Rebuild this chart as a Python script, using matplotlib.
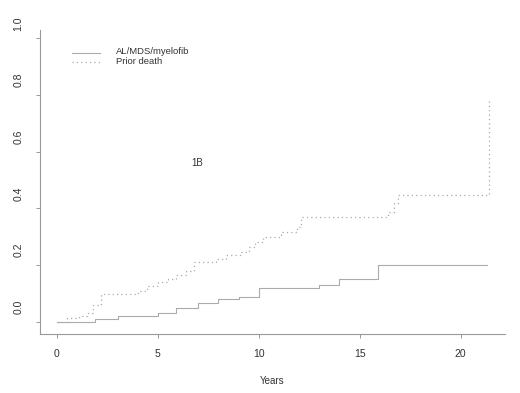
import matplotlib
matplotlib.use("Agg")
import matplotlib.pyplot as plt
import matplotlib.transforms as mtransforms

plt.rcParams['font.family'] = ['Liberation Sans', 'DejaVu Sans']

# cumulative incidence, AL/MDS/myelofib (step curve)
t_alm = [0, 1.9, 3.0, 5.0, 5.9, 7.0, 8.0, 9.0, 10.0, 13.0, 14.0, 15.9, 21.3]
v_alm = [0, 0.01, 0.02, 0.03, 0.05, 0.067, 0.08, 0.088, 0.12, 0.13, 0.15, 0.20, 0.20]

# cumulative incidence, prior death
t_death = [0, 0.5, 1.1, 1.5, 1.8, 2.2, 4.0, 4.45, 5.0, 5.5, 5.9, 6.4, 6.8, 7.9, 8.4,
           9.1, 9.5, 9.8, 10.2, 11.1, 11.9, 12.1, 16.4, 16.7, 16.9, 21.4, 21.4]
v_death = [0, 0.015, 0.022, 0.03, 0.06, 0.10, 0.11, 0.125, 0.14, 0.15, 0.165, 0.18, 0.21,
           0.22, 0.235, 0.245, 0.265, 0.28, 0.30, 0.317, 0.335, 0.37, 0.387, 0.42, 0.447,
           0.447, 0.79]

xticks = [0, 5, 10, 15, 20]
yticks = [0.0, 0.2, 0.4, 0.6, 0.8, 1.0]

fig = plt.figure(figsize=(5.2, 3.93), dpi=100)
ax = fig.add_axes([0.077, 0.150, 0.894, 0.774])

ax.plot(t_alm, v_alm, drawstyle='steps-post', color='#ababab', lw=0.8, ls='-')
ax.plot(t_death, v_death, drawstyle='steps-post', color='#ababab', lw=0.9, ls=(0, (1, 2.5)))

ax.set_xlim(-0.84, 22.2)
ax.set_ylim(-0.043, 1.03)

for s in ['top', 'right']:
    ax.spines[s].set_visible(False)
for s in ['left', 'bottom']:
    ax.spines[s].set_color('#999999')
    ax.spines[s].set_linewidth(0.8)

ax.set_xticks(xticks)
ax.set_xticklabels([str(x) for x in xticks], fontsize=7.5, color='#333333')
ax.set_yticks(yticks)
ax.set_yticklabels(['%.1f' % y for y in yticks], fontsize=7.5, color='#333333',
                   rotation=90, va='center')
ax.tick_params(axis='both', length=3, width=0.7, color='#999999')
ax.tick_params(axis='x', pad=8)
ax.tick_params(axis='y', pad=9)

# the y labels sit a bit above their ticks in the original
offset = mtransforms.ScaledTranslation(0, 0.15, fig.dpi_scale_trans)
for lab in ax.get_yticklabels():
    lab.set_transform(lab.get_transform() + offset)

ax.set_xlabel('Years', fontsize=7, color='#333333', labelpad=12)

# legend, drawn by hand like the R plot
ax.plot([0.75, 2.15], [0.95, 0.95], color='#ababab', lw=0.8)
ax.plot([0.75, 2.15], [0.918, 0.918], color='#ababab', lw=0.9, ls=(0, (1, 2.5)))
ax.text(2.9, 0.952, 'AL/MDS/myelofib', fontsize=6.8, color='#333333', va='center')
ax.text(2.9, 0.919, 'Prior death', fontsize=6.8, color='#333333', va='center')

ax.text(6.95, 0.56, '1B', fontsize=7, color='#333333', ha='center', va='center')

fig.savefig('out.png', dpi=100)
